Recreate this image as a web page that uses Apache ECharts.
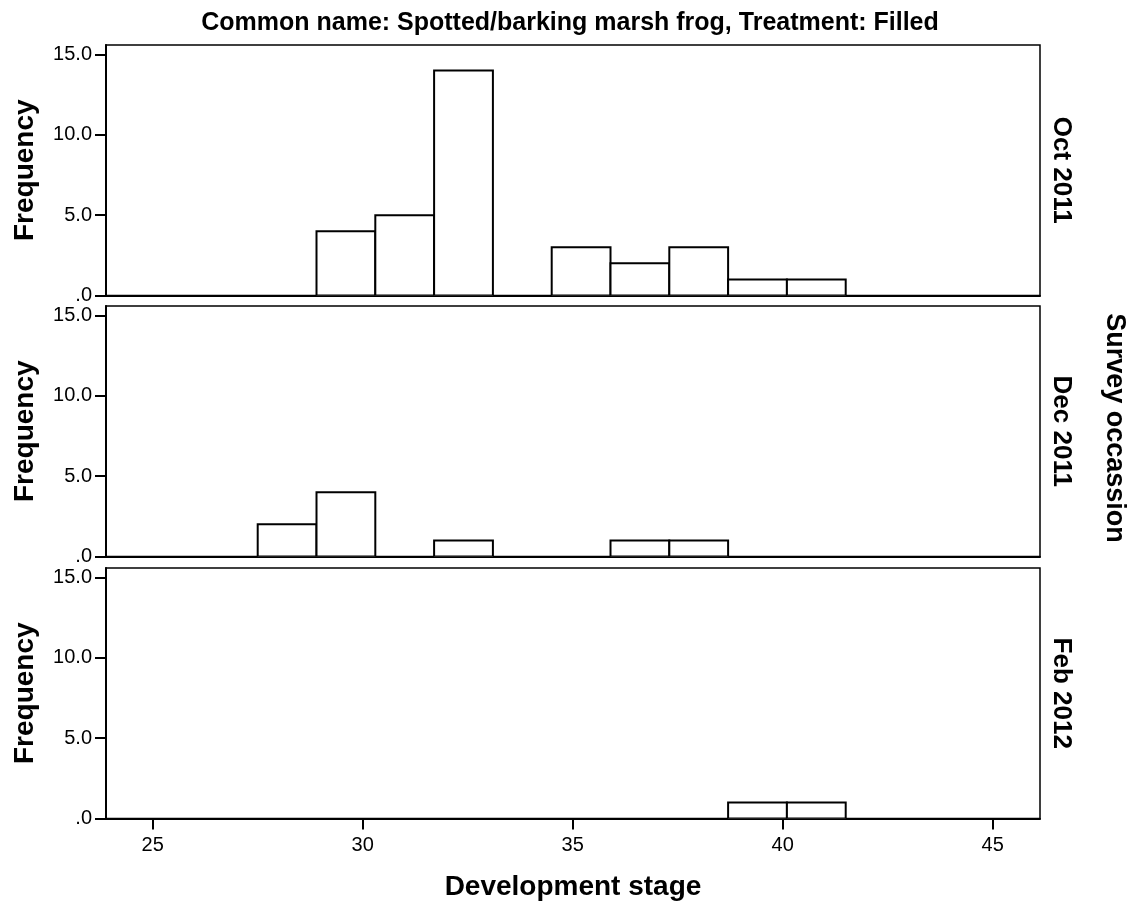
<!DOCTYPE html>
<html>
<head>
<meta charset="utf-8">
<style>
  html, body { margin: 0; padding: 0; background: #fff; }
  #chart { width: 1136px; height: 904px; }
</style>
<script src="https://cdn.jsdelivr.net/npm/echarts@6/dist/echarts.min.js"></script>
</head>
<body>
<div id="chart"></div>
<script>
// Histogram bins: first lower edge and common width (development stage units)
const binStart = 27.5;
const binWidth = 1.4;

// Facet rows (survey occasions) and their bin counts
const occasions = ['Oct 2011', 'Dec 2011', 'Feb 2012'];
const countsOct2011 = [0, 4, 5, 14, 0, 3, 2, 3, 1, 1];
const countsDec2011 = [2, 4, 0, 1, 0, 0, 1, 1, 0, 0];
const countsFeb2012 = [0, 0, 0, 0, 0, 0, 0, 0, 1, 1];

// Axis ranges and tick labels
const xMin = 23.888;
const xMax = 46.126;
const xTicks = [25, 30, 35, 40, 45];
const yMax = 15.59;
const yTicks = [0, 5, 10, 15];

const FONT = "'Liberation Sans', Arial, sans-serif";
const panelCounts = [countsOct2011, countsDec2011, countsFeb2012];

// Panel geometry (pixels)
const gridLeft = 106;
const gridRight = 96;
const panelTops = [45, 306, 568];
const panelHeight = 250.5;

function binRows(counts) {
  const rows = [];
  counts.forEach((n, i) => {
    if (n > 0) rows.push([binStart + i * binWidth, binStart + (i + 1) * binWidth, n]);
  });
  return rows;
}

const grids = [], xAxes = [], yAxes = [], series = [], graphics = [];

panelCounts.forEach((counts, k) => {
  const isBottom = k === panelCounts.length - 1;
  grids.push({
    left: gridLeft, right: gridRight, top: panelTops[k], height: panelHeight,
    show: true, borderColor: '#000', borderWidth: 1.5, backgroundColor: '#fff'
  });
  xAxes.push({
    gridIndex: k, type: 'value', min: xMin, max: xMax,
    splitLine: { show: false },
    axisLine: { show: true, onZero: false, lineStyle: { color: '#000', width: 2 } },
    axisTick: { show: isBottom, length: 11, inside: false, customValues: xTicks,
                lineStyle: { color: '#000', width: 2 } },
    axisLabel: { show: isBottom, customValues: xTicks, margin: 17,
                 color: '#000', fontSize: 20, fontFamily: FONT }
  });
  yAxes.push({
    gridIndex: k, type: 'value', min: 0, max: yMax,
    splitLine: { show: false },
    axisLine: { show: true, lineStyle: { color: '#000', width: 2 } },
    axisTick: { show: true, length: 11, customValues: yTicks,
                lineStyle: { color: '#000', width: 2 } },
    axisLabel: { show: true, customValues: yTicks, margin: 14,
                 color: '#000', fontSize: 20, fontFamily: FONT,
                 formatter: v => (v === 0 ? '.0' : v.toFixed(1)) }
  });
  series.push({
    type: 'custom',
    xAxisIndex: k, yAxisIndex: k,
    data: binRows(counts),
    encode: { x: [0, 1], y: 2 },
    clip: true,
    renderItem: (params, api) => {
      const p0 = api.coord([api.value(0), 0]);
      const p1 = api.coord([api.value(1), api.value(2)]);
      return {
        type: 'rect',
        shape: { x: p0[0], y: p1[1], width: p1[0] - p0[0], height: p0[1] - p1[1] },
        style: { fill: '#fff', stroke: '#000', lineWidth: 2 }
      };
    }
  });

  const mid = panelTops[k] + panelHeight / 2;
  // Y axis title for each panel
  graphics.push({
    type: 'text', x: 25, y: mid, rotation: Math.PI / 2,
    style: { text: 'Frequency', fill: '#000', font: `bold 28px ${FONT}`,
             align: 'center', verticalAlign: 'middle' }
  });
  // Facet label on the right
  graphics.push({
    type: 'text', x: 1061, y: mid, rotation: -Math.PI / 2,
    style: { text: occasions[k], fill: '#000', font: `bold 26px ${FONT}`,
             align: 'center', verticalAlign: 'middle' }
  });
});

// Chart title, facet variable name and x axis title
graphics.push({
  type: 'text', x: 570, y: 23,
  style: { text: 'Common name: Spotted/barking marsh frog, Treatment: Filled',
           fill: '#000', font: `bold 25px ${FONT}`, align: 'center', verticalAlign: 'middle' }
});
graphics.push({
  type: 'text', x: 1114, y: 428, rotation: -Math.PI / 2,
  style: { text: 'Survey occassion', fill: '#000', font: `bold 27px ${FONT}`,
           align: 'center', verticalAlign: 'middle' }
});
graphics.push({
  type: 'text', x: 573, y: 887,
  style: { text: 'Development stage', fill: '#000', font: `bold 28px ${FONT}`,
           align: 'center', verticalAlign: 'middle' }
});

const chart = echarts.init(document.getElementById('chart'), null, { renderer: 'canvas' });
chart.setOption({
  animation: false,
  backgroundColor: '#fff',
  grid: grids,
  xAxis: xAxes,
  yAxis: yAxes,
  series: series,
  graphic: graphics
});
</script>
</body>
</html>
